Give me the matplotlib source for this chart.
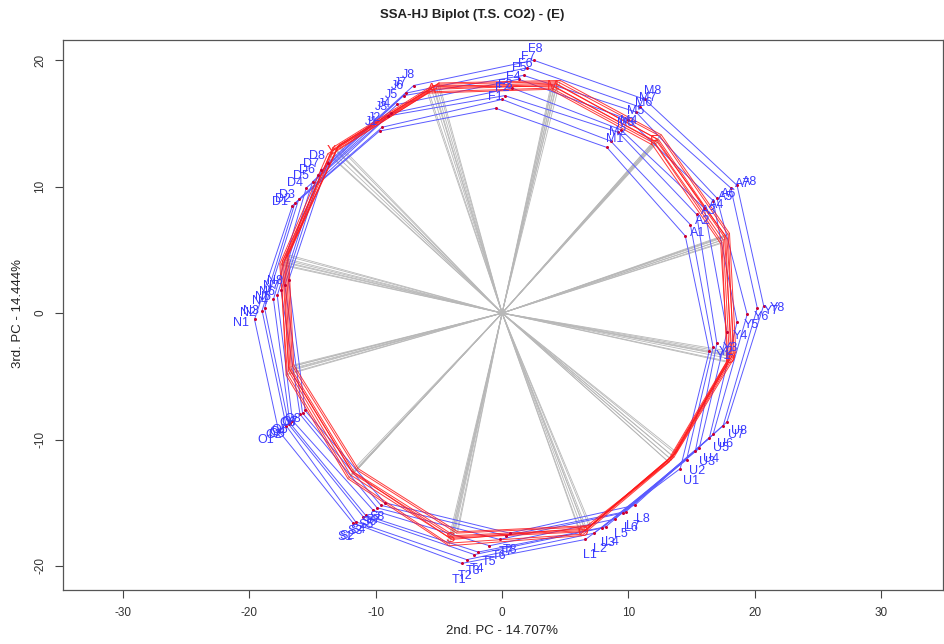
import numpy as np
import matplotlib
matplotlib.use("Agg")
import matplotlib.pyplot as plt

plt.rcParams['font.family'] = ['Liberation Sans', 'DejaVu Sans']
plt.rcParams['axes.unicode_minus'] = False

title = "SSA-HJ Biplot (T.S. CO2) - (E)"
xlabel = "2nd. PC - 14.707%"
ylabel = "3rd. PC - 14.444%"

months = ["J", "F", "M", "A", "Y", "U", "L", "T", "S", "O", "N", "D"]
years = [1, 2, 3, 4, 5, 6, 7, 8]

# blue (row) markers: one list of 8 years per month
blue_x = [
    [-9.7, -9.5, -9.0, -8.8, -8.3, -7.8, -7.6, -7.0],   # J
    [-0.5, 0.0, 0.2, 0.8, 1.3, 1.7, 2.0, 2.5],         # F
    [8.3, 8.6, 9.2, 9.4, 10.0, 10.6, 10.9, 11.3],      # M
    [14.5, 14.9, 15.4, 16.0, 16.7, 17.0, 18.1, 18.6],  # A
    [16.4, 16.7, 17.0, 17.8, 18.6, 19.4, 20.2, 20.7],  # Y
    [14.1, 14.6, 15.3, 15.6, 16.4, 16.7, 17.5, 17.8],  # U
    [6.6, 7.3, 7.9, 8.2, 8.9, 9.6, 9.8, 10.5],         # L
    [-3.2, -2.8, -2.2, -1.9, -1.0, -0.2, 0.3, 0.6],    # T
    [-11.8, -11.6, -11.0, -10.8, -10.2, -9.9, -9.6, -9.3],  # S
    [-17.7, -17.1, -16.9, -16.8, -16.6, -16.0, -15.8, -15.6],  # O
    [-19.6, -19.0, -18.8, -18.1, -17.8, -17.5, -17.2, -16.9],  # N
    [-16.6, -16.4, -16.1, -15.5, -15.0, -14.6, -14.3, -13.8],  # D
]
blue_y = [
    [14.4, 14.7, 15.6, 15.8, 16.5, 17.2, 17.4, 18.0],
    [16.2, 16.9, 17.2, 17.8, 18.5, 18.8, 19.4, 20.0],
    [13.1, 13.6, 14.3, 14.5, 15.3, 15.9, 16.3, 16.9],
    [6.1, 7.0, 7.8, 8.3, 8.9, 9.1, 9.9, 10.1],
    [-3.0, -2.7, -2.4, -1.5, -0.7, -0.1, 0.4, 0.6],
    [-12.3, -11.6, -10.9, -10.7, -9.9, -9.6, -8.9, -8.6],
    [-17.9, -17.4, -17.0, -16.9, -16.3, -15.8, -15.7, -15.2],
    [-19.8, -19.5, -19.1, -18.9, -18.4, -17.9, -17.6, -17.4],
    [-16.6, -16.5, -16.1, -16.0, -15.6, -15.4, -15.2, -15.0],
    [-9.3, -8.9, -8.8, -8.7, -8.5, -8.0, -7.9, -7.7],
    [-0.5, 0.2, 0.4, 1.1, 1.4, 1.8, 2.2, 2.6],
    [8.5, 8.7, 9.0, 9.9, 10.4, 10.9, 11.3, 11.9],
]

# red (column) markers: 8 polygons, 12 vertices each
red_x = [
    [-5.6, 4.0, 12.0, 17.5, 18.0, 13.3, 6.4, -4.1, -12.0, -16.9, -17.4, -13.5],
    [-5.4, 4.2, 12.2, 17.6, 18.2, 13.5, 6.7, -3.8, -11.7, -16.7, -17.1, -13.3],
    [-5.1, 4.4, 12.5, 17.9, 18.3, 13.7, 6.9, -3.6, -11.5, -16.6, -17.0, -13.0],
    [-5.8, 3.9, 12.1, 17.4, 17.8, 13.1, 6.2, -4.3, -12.1, -17.0, -17.6, -13.8],
    [-5.2, 4.3, 12.4, 17.8, 18.4, 13.6, 6.6, -3.9, -11.8, -16.8, -17.2, -13.1],
    [-5.5, 4.1, 12.3, 17.7, 18.1, 13.4, 6.5, -4.0, -11.9, -16.9, -17.3, -13.4],
    [-5.0, 4.6, 12.6, 18.0, 18.5, 13.8, 7.0, -3.5, -11.4, -16.5, -16.9, -12.9],
    [-5.9, 3.8, 11.9, 17.3, 17.9, 13.2, 6.3, -4.2, -12.2, -17.1, -17.5, -13.6],
]
red_y = [
    [17.7, 18.0, 13.6, 5.8, -3.6, -11.5, -17.3, -17.8, -12.8, -4.6, 4.1, 12.8],
    [17.9, 18.2, 13.8, 6.0, -3.4, -11.3, -17.1, -17.6, -12.6, -4.4, 4.3, 13.0],
    [18.1, 18.3, 14.0, 6.2, -3.2, -11.1, -16.9, -17.4, -12.4, -4.2, 4.5, 13.2],
    [17.5, 17.8, 13.4, 5.6, -3.8, -11.7, -17.5, -18.2, -13.0, -4.8, 3.9, 12.6],
    [17.8, 18.1, 13.7, 5.9, -3.5, -11.4, -17.2, -17.7, -12.7, -4.5, 4.2, 12.9],
    [18.0, 17.9, 13.5, 6.1, -3.3, -11.6, -17.0, -17.9, -12.5, -4.3, 4.0, 13.1],
    [18.2, 18.4, 14.1, 6.3, -3.1, -11.0, -16.8, -17.3, -12.3, -4.1, 4.6, 13.3],
    [17.4, 17.7, 13.3, 5.5, -3.9, -11.8, -17.6, -18.4, -13.1, -4.9, 3.8, 12.5],
]
red_labels = ["A", "M", "F", "", "D", "", "O", "S", "", "", "", "Y"]

fig = plt.figure(figsize=(9.45, 6.44), dpi=100)
ax = fig.add_axes([63/945, 1-590/644, 880/945, 550/644])
ax.set_xlim(-34.76, 34.9)
ax.set_ylim(-21.9, 21.6)

rx = np.array(red_x)
ry = np.array(red_y)
bx = np.array(blue_x).T   # years x months
by = np.array(blue_y).T

# grey lines from origin to column markers
for i in range(rx.shape[0]):
    for j in range(rx.shape[1]):
        ax.plot([0, rx[i, j]], [0, ry[i, j]], color="#b8b8b8", lw=0.6, zorder=1)

# blue polygons for each year
for k in range(bx.shape[0]):
    xs = np.append(bx[k], bx[k][0])
    ys = np.append(by[k], by[k][0])
    ax.plot(xs, ys, color="#5a5aff", lw=0.7, zorder=2)

# red polygons
for i in range(rx.shape[0]):
    xs = np.append(rx[i], rx[i][0])
    ys = np.append(ry[i], ry[i][0])
    ax.plot(xs, ys, color="#ff1a1a", lw=0.7, alpha=0.85, zorder=3)

# red labels
for j, lab in enumerate(red_labels):
    if lab:
        ax.text(rx[0, j], ry[0, j], lab, color="#ff2a2a", fontsize=10,
                ha="center", va="center", zorder=4)

# blue points and labels
for k in range(bx.shape[0]):
    for j in range(bx.shape[1]):
        x, y = bx[k, j], by[k, j]
        ax.plot(x, y, 'o', color="#cc0033", ms=2.2, mec="none", zorder=5)
        ang = np.arctan2(y, x)
        ax.annotate(f"{months[j]}{years[k]}", (x, y),
                    xytext=(10*np.cos(ang), 10*np.sin(ang) - 2),
                    textcoords="offset points", color="#3a3aff",
                    fontsize=9, ha="center", va="center", zorder=6)

ax.set_xticks([-30, -20, -10, 0, 10, 20, 30])
ax.set_yticks([-20, -10, 0, 10, 20])
ax.tick_params(direction="out", length=6, width=0.8, colors="#444444",
               labelsize=8.5, labelcolor="#333333", pad=6)
for lab in ax.get_yticklabels():
    lab.set_rotation(90)
    lab.set_va("center")
for s in ax.spines.values():
    s.set_color("#555555")
    s.set_linewidth(0.9)

fig.text(0.5, 1-15/644, title, ha="center", va="center", fontsize=9.5,
         fontweight="bold", color="#222222")
fig.text(502/945, 1-631/644, xlabel, ha="center", va="center", fontsize=9.5,
         color="#222222")
fig.text(18/945, 1-313/644, ylabel, ha="center", va="center", fontsize=9.5,
         color="#222222", rotation=90)

fig.savefig("out.png", dpi=100)
